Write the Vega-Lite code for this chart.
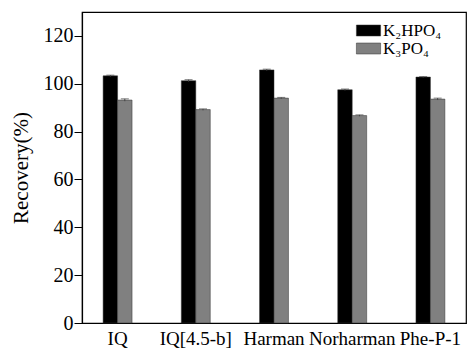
{
  "$schema": "https://vega.github.io/schema/vega-lite/v6.json",
  "width": 384,
  "height": 311,
  "autosize": {"type": "none"},
  "padding": {"left": 82, "top": 12, "right": 7, "bottom": 28},
  "background": "white",
  "config": {
    "font": "Liberation Serif",
    "view": {"stroke": "black", "strokeWidth": 1.2},
    "axis": {"labelFont": "Liberation Serif", "titleFont": "Liberation Serif", "labelColor": "black", "titleColor": "black", "domainColor": "black", "tickColor": "black", "grid": false}
  },
  "data": {
    "values": [
      {"compound": "IQ", "salt": "K₂HPO₄", "value": 103.3, "err": 0.3},
      {"compound": "IQ", "salt": "K₃PO₄", "value": 93.2, "err": 0.5},
      {"compound": "IQ[4.5-b]", "salt": "K₂HPO₄", "value": 101.3, "err": 0.4},
      {"compound": "IQ[4.5-b]", "salt": "K₃PO₄", "value": 89.2, "err": 0.3},
      {"compound": "Harman", "salt": "K₂HPO₄", "value": 105.8, "err": 0.3},
      {"compound": "Harman", "salt": "K₃PO₄", "value": 94.0, "err": 0.3},
      {"compound": "Norharman", "salt": "K₂HPO₄", "value": 97.5, "err": 0.3},
      {"compound": "Norharman", "salt": "K₃PO₄", "value": 86.7, "err": 0.3},
      {"compound": "Phe-P-1", "salt": "K₂HPO₄", "value": 102.8, "err": 0.2},
      {"compound": "Phe-P-1", "salt": "K₃PO₄", "value": 93.6, "err": 0.4}
    ]
  },
  "encoding": {
    "x": {
      "field": "compound", "type": "nominal", "sort": null,
      "scale": {"paddingInner": 0.63, "paddingOuter": 0.27},
      "axis": {"title": null, "labelAngle": 0, "ticks": false, "labelFontSize": 19, "labelPadding": 6, "labelOverlap": false, "labelLimit": 0, "domainWidth": 1.2}
    },
    "xOffset": {"field": "salt", "type": "nominal", "sort": ["K₂HPO₄", "K₃PO₄"], "scale": {"paddingInner": 0, "paddingOuter": 0}}
  },
  "layer": [
    {
      "mark": {"type": "bar", "stroke": "#333", "strokeWidth": 0.5},
      "encoding": {
        "y": {
          "field": "value", "type": "quantitative",
          "scale": {"domain": [0, 130], "nice": false},
          "axis": {"title": "Recovery(%)", "values": [0, 20, 40, 60, 80, 100, 120], "labelFontSize": 20, "titleFontSize": 21, "titleFontWeight": "normal", "tickSize": 8, "labelPadding": 1, "titlePadding": 12, "domainWidth": 1.2}
        },
        "color": {
          "field": "salt", "type": "nominal", "sort": ["K₂HPO₄", "K₃PO₄"],
          "scale": {"domain": ["K₂HPO₄", "K₃PO₄"], "range": ["#000000", "#808080"]},
          "legend": {
            "title": null, "orient": "none", "legendX": 278, "legendY": 10,
            "symbolType": "M-2.2,-1H2.2V1H-2.2Z", "symbolSize": 121, "symbolStrokeWidth": 0.5, "symbolStrokeColor": "#333",
            "labelFontSize": 17, "labelColor": "black", "labelOffset": 6, "rowPadding": 0, "symbolOffset": 0
          }
        }
      }
    },
    {
      "mark": {"type": "rule", "color": "#444", "strokeWidth": 1},
      "encoding": {
        "y": {"field": "lo", "type": "quantitative"},
        "y2": {"field": "hi"}
      },
      "transform": [{"calculate": "datum.value - datum.err", "as": "lo"}, {"calculate": "datum.value + datum.err", "as": "hi"}]
    },
    {
      "mark": {"type": "tick", "color": "#444", "thickness": 1, "size": 8},
      "transform": [{"calculate": "datum.value + datum.err", "as": "hi"}],
      "encoding": {"y": {"field": "hi", "type": "quantitative"}}
    }
  ]
}
